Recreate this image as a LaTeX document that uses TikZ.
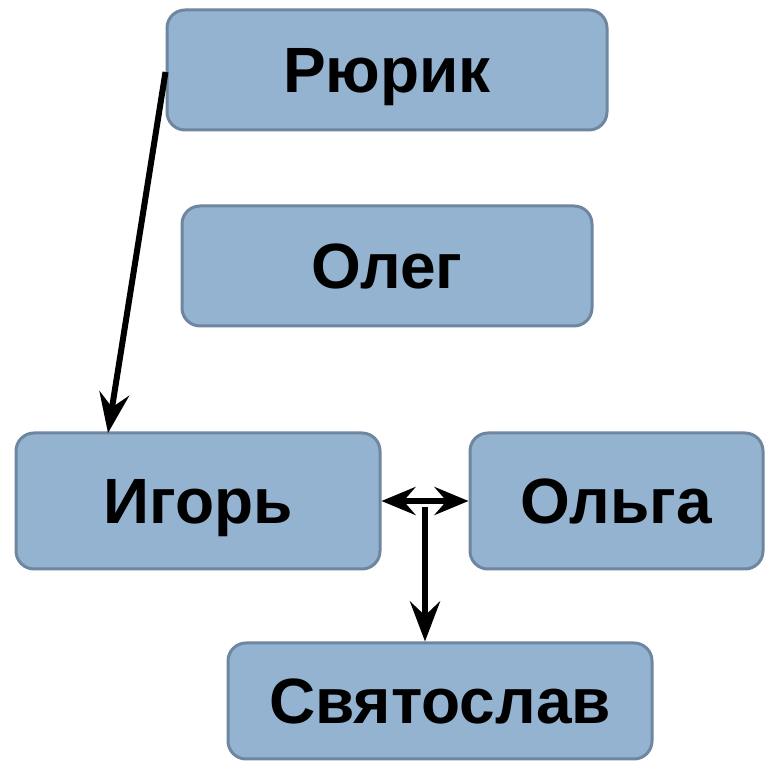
\documentclass[tikz,border=0pt]{standalone}
\usepackage{fontspec}
\setmainfont{Liberation Sans}
\usetikzlibrary{arrows.meta,calc}
\definecolor{boxfill}{HTML}{94B3D1}
\definecolor{boxline}{HTML}{6F86A0}
\begin{document}
\begin{tikzpicture}[x=1pt,y=1pt,
  person/.style={draw=boxline, fill=boxfill, line width=3pt, rounded corners=18pt,
    font=\fontsize{64}{64}\selectfont\bfseries, anchor=center, inner sep=0pt,
    text height=46pt, text depth=0pt},
  link/.style={line width=6pt, -{Stealth[length=40pt,width=30pt,inset=14pt]}},
  dlink/.style={line width=6pt, {Stealth[length=34pt,width=28pt,inset=12pt]}-{Stealth[length=34pt,width=28pt,inset=12pt]}}]
\useasboundingbox (0,0) rectangle (765,762);
% y_tikz = 762 - y_px
\node[person, minimum width=440pt, minimum height=120pt] (rurik) at (387,692) {Рюрик};
\node[person, minimum width=410pt, minimum height=120pt] (oleg) at (387,496) {Олег};
\node[person, minimum width=364pt, minimum height=136pt] (igor) at (198,261) {Игорь};
\node[person, minimum width=293pt, minimum height=136pt] (olga) at (616.5,261) {Ольга};
\node[person, minimum width=424pt, minimum height=116pt] (svyat) at (440,61) {Святослав};
\coordinate (ra) at ([yshift=-2pt]rurik.west);
\coordinate (ia) at (108,329);
\draw[link] (ra) -- (ia);
\draw[dlink] (igor.east) -- (olga.west);
\coordinate (mid) at ($(igor.east)!0.5!(olga.west)+(0,-6)$);
\draw[link] (mid) -- (mid |- svyat.north);
\end{tikzpicture}
\end{document}
